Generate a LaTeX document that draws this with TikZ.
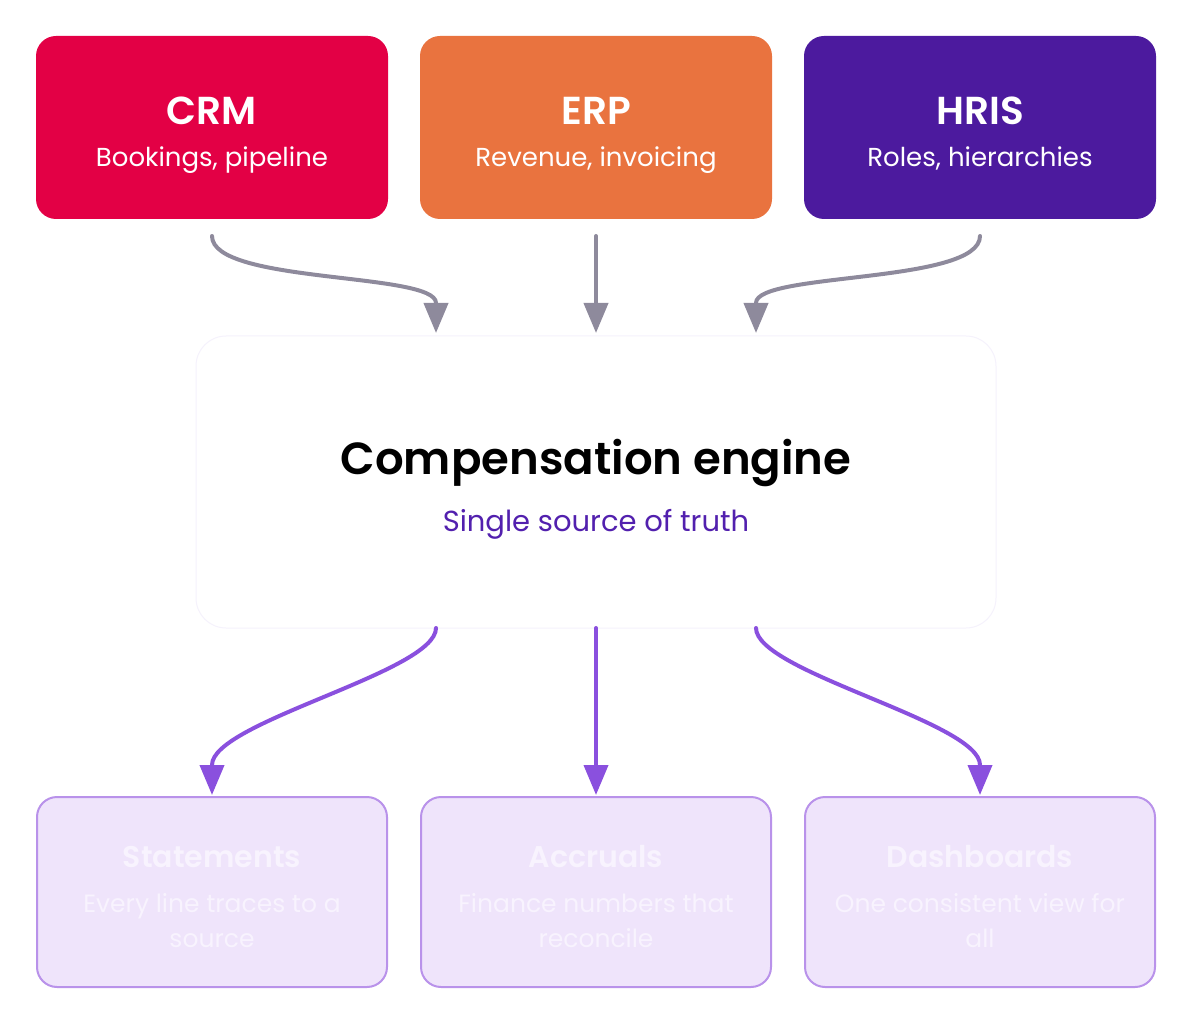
\documentclass[tikz,border=0pt]{standalone}
\usepackage{fontspec}
\setmainfont{Poppins}[BoldFont={* SemiBold}]
\usetikzlibrary{positioning, arrows.meta}

\definecolor{crmred}{HTML}{E30045}
\definecolor{erporange}{HTML}{E9733F}
\definecolor{hrisviolet}{HTML}{4C1A9E}
\definecolor{feedgray}{HTML}{8E8A9C}
\definecolor{outpurple}{HTML}{8A50DE}
\definecolor{outfill}{HTML}{EFE4FB}
\definecolor{outedge}{HTML}{B992EA}
\definecolor{outtext}{HTML}{F8F3FE}
\definecolor{engline}{HTML}{F5F2FC}
\definecolor{truthpurple}{HTML}{5220AE}

\begin{document}
\begin{tikzpicture}[x = 1pt, y = -1pt, % pixel grid, y going down
                > = {Triangle[width=24pt, length=30pt]}, % arrow head style
                line cap = round,
                line width = 4pt % line style
            ]

            \tikzstyle{every node}=[outer sep = 0pt, inner sep = 0pt,
            align = center, text = white]
            \tikzstyle{srcbox}=[rounded corners = 20pt, minimum width = 352pt,
            minimum height = 183pt]
            \tikzstyle{outbox}=[draw = outedge, line width = 2pt, fill = outfill,
            rounded corners = 20pt, minimum width = 350pt, minimum height = 190pt]
            \tikzstyle{srctitle}=[anchor = base, font = \fontsize{39}{45}\bfseries\selectfont]
            \tikzstyle{srcsub}=[anchor = base, font = \fontsize{26}{34}\selectfont]
            \tikzstyle{outtitle}=[anchor = base, text = outtext,
            font = \fontsize{30}{36}\bfseries\selectfont]
            \tikzstyle{outsub}=[anchor = base, text = outtext,
            font = \fontsize{25}{35}\selectfont]

            \useasboundingbox (0,0) rectangle (1192,1024);

            % sources
            \node[srcbox, fill = crmred] (crm) at (212,127.5) {};
            \node[srcbox, fill = erporange, right = 32pt of crm] (erp) {};
            \node[srcbox, fill = hrisviolet, right = 32pt of erp] (hris) {};

            \foreach \n/\t/\s in {crm/CRM/{Bookings, pipeline},
                erp/ERP/{Revenue, invoicing}, hris/HRIS/{Roles, hierarchies}} {
                \node[srctitle] (\n-t) at ([yshift=-89pt]\n.north) {\t};
                \node[srcsub] (\n-s) at ([yshift=-131pt]\n.north) {\s};
            }

            % engine
            \node[draw = engline, line width = 1pt, fill = white,
            rounded corners = 30pt, minimum width = 800pt, minimum height = 292pt,
            below = 117pt of erp] (engine) {};
            \node[anchor = base, text = black,
            font = \fontsize{45}{52}\bfseries\selectfont] (engine-t)
            at ([yshift=-138pt]engine.north) {Compensation engine};
            \node[anchor = base, text = truthpurple,
            font = \fontsize{29}{36}\selectfont] (engine-s)
            at ([yshift=-195pt]engine.north) {Single source of truth};

            % outputs
            \node[outbox, below = 169pt of engine] (accr) {};
            \node[outbox, left = 34pt of accr] (stmt) {};
            \node[outbox, right = 34pt of accr] (dash) {};

            \foreach \n/\t/\s/\r in {stmt/Statements/{Every line traces to a}/source,
                accr/Accruals/{Finance numbers that}/reconcile,
                dash/Dashboards/{One consistent view for}/all} {
                \node[outtitle] (\n-t) at ([yshift=-70pt]\n.north) {\t};
                \node[outsub] (\n-s) at ([yshift=-115pt]\n.north) {\s};
                \node[outsub] (\n-r) at ([yshift=-150pt]\n.north) {\r};
            }

            \coordinate (in1) at ([xshift=-160pt, yshift=3pt]engine.north);
            \coordinate (in3) at ([xshift=160pt, yshift=3pt]engine.north);
            \coordinate (out1) at ([xshift=-160pt]engine.south);
            \coordinate (out3) at ([xshift=160pt]engine.south);

            \draw[->, feedgray] ([yshift=-17pt]crm.south) .. controls +(0,48)
            and +(0,-31) .. ([yshift=30pt]in1) -- (in1);
            \draw[->, feedgray] ([yshift=-17pt]erp.south) --
            ([yshift=3pt]engine.north);
            \draw[->, feedgray] ([yshift=-17pt]hris.south) .. controls +(0,48)
            and +(0,-31) .. ([yshift=30pt]in3) -- (in3);

            \draw[->, outpurple] (out1) .. controls +(0,44) and +(0,-43) ..
            ([yshift=32pt]stmt.north) -- ([yshift=2pt]stmt.north);
            \draw[->, outpurple] (engine.south) -- ([yshift=2pt]accr.north);
            \draw[->, outpurple] (out3) .. controls +(0,44) and +(0,-43) ..
            ([yshift=32pt]dash.north) -- ([yshift=2pt]dash.north);
        \end{tikzpicture}
\end{document}
